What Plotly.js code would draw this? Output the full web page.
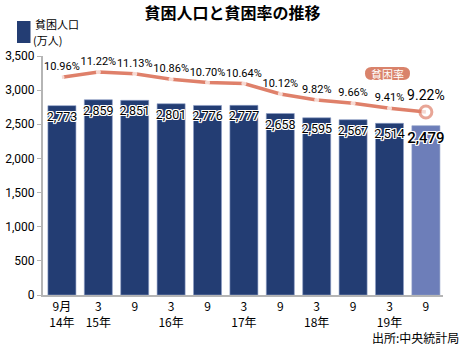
<!DOCTYPE html>
<html><head><meta charset="utf-8">
<script src="https://cdn.plot.ly/plotly-3.0.1.min.js"></script>
<style>body{margin:0;background:#fff}#c{width:465px;height:348px}</style>
</head><body><div id="c"></div>
<script>
const periodLabels = ["9月<br>14年","3<br>15年","9","3<br>16年","9","3<br>17年","9","3<br>18年","9","3<br>19年","9"];
const povertyPop = [2773,2859,2851,2801,2776,2777,2658,2595,2567,2514,2479];
const povertyRate = [10.96,11.22,11.13,10.86,10.70,10.64,10.12,9.82,9.66,9.41,9.22];
const yTicks = [0,500,1000,1500,2000,2500,3000,3500];

const NUM = "Roboto, Noto Sans CJK JP, sans-serif";
const CJK = "Noto Sans CJK JP, sans-serif";
const NAVY = "#233d73", LIGHT = "#6d7eb9", SALMON = "#df806a";
const L=43, R=443, T=56, B=295, W=465, H=348;
const pw=R-L, ph=B-T;
const px = x => (x-L)/pw, py = y => (B-y)/ph;
const n = povertyPop.length;
const xs = povertyPop.map((_,i)=>i);
const last = n-1;

const halo = "-1px -1px 0 #fff, 1px -1px 0 #fff, -1px 1px 0 #fff, 1px 1px 0 #fff, 0 1px 0 #fff, 0 -1px 0 #fff, 1px 0 0 #fff, -1px 0 0 #fff";

const traces = [
  {type:'bar', x:xs, y:povertyPop, marker:{color:xs.map(i=>i===last?LIGHT:NAVY), line:{color:'#8fa0c8',width:0.6}},
   text:povertyPop.map(v=>v.toLocaleString('en-US')), textposition:'inside', insidetextanchor:'end', constraintext:'none', textangle:0,
   insidetextfont:{family:NUM, size:xs.map(i=>i===last?15:12.5), color:'#000', shadow:halo, weight:xs.map(i=>i===last?500:400)},
   cliponaxis:false, hoverinfo:'skip'},
  {type:'scatter', mode:'lines+markers+text', x:xs, y:povertyRate, yaxis:'y2',
   line:{color:SALMON, width:3.5},
   marker:{size:xs.map(i=>i===last?12:5), color:'#fff', line:{color:xs.map(i=>i===last?SALMON:'#fff'), width:xs.map(i=>i===last?3:0)}},
   text:povertyRate.map(v=>v.toFixed(2)+'%'), textposition:'top center',
   textfont:{family:NUM, size:xs.map(i=>i===last?14:11), color:'#000'}, cliponaxis:false, hoverinfo:'skip'}
];

const layout = {
  width:W, height:H, margin:{l:L, r:W-R, t:T, b:H-B}, showlegend:false,
  paper_bgcolor:'#fff', plot_bgcolor:'#fff', bargap:0.23,
  title:{text:'<b>貧困人口と貧困率の推移</b>', font:{family:CJK, size:16, color:'#000'}, x:0.5, xref:'container', y:1-13/H, yref:'container', yanchor:'middle'},
  xaxis:{range:[-0.52,10.47], tickvals:xs, ticktext:periodLabels, showline:true, linecolor:'#b5b5b5', linewidth:2, ticks:'', showgrid:false, zeroline:false,
         tickfont:{family:CJK, size:12, color:'#000'}},
  yaxis:{range:[0,3500], tickvals:yTicks, tickformat:',d', showline:true, linecolor:'#b5b5b5', linewidth:2, ticks:'outside', ticklen:4, tickcolor:'#b5b5b5',
         showgrid:false, zeroline:false, tickfont:{family:NUM, size:12, color:'#000'}},
  yaxis2:{range:[0.07,12.02], overlaying:'y', side:'right', visible:false},
  shapes:[
    {type:'rect', xref:'paper', yref:'paper', x0:px(17), x1:px(30.5), y0:py(43), y1:py(21), fillcolor:NAVY, line:{width:0}},
    {type:'path', xref:'paper', yref:'paper', fillcolor:'#d9836b', line:{width:0},
     path:(()=>{const x0=365,x1=410,y0=67,y1=80,r=6.5;
       const P=(x,y)=>px(x)+','+py(y);
       return `M ${P(x0+r,y0)} L ${P(x1-r,y0)} Q ${P(x1,y0)} ${P(x1,y0+r)} L ${P(x1,y1-r)} Q ${P(x1,y1)} ${P(x1-r,y1)} L ${P(x0+r,y1)} Q ${P(x0,y1)} ${P(x0,y1-r)} L ${P(x0,y0+r)} Q ${P(x0,y0)} ${P(x0+r,y0)} Z`;})()}
  ],
  annotations:[
    {text:'貧困人口', xref:'paper', yref:'paper', x:px(33), y:py(24), xanchor:'left', yanchor:'middle', showarrow:false, font:{family:CJK, size:11, color:'#000'}},
    {text:'(万人)', xref:'paper', yref:'paper', x:px(31), y:py(39.5), xanchor:'left', yanchor:'middle', showarrow:false, font:{family:CJK, size:11, color:'#000'}},
    {text:'貧困率', xref:'paper', yref:'paper', x:px(387.5), y:py(73.5), xanchor:'center', yanchor:'middle', showarrow:false, font:{family:CJK, size:11, color:'#fff'}},
    {text:'出所:中央統計局', xref:'paper', yref:'paper', x:px(461), y:py(337), xanchor:'right', yanchor:'middle', showarrow:false, font:{family:CJK, size:12, color:'#000'}}
  ]
};
Plotly.newPlot('c', traces, layout, {staticPlot:true, displayModeBar:false});
</script></body></html>
